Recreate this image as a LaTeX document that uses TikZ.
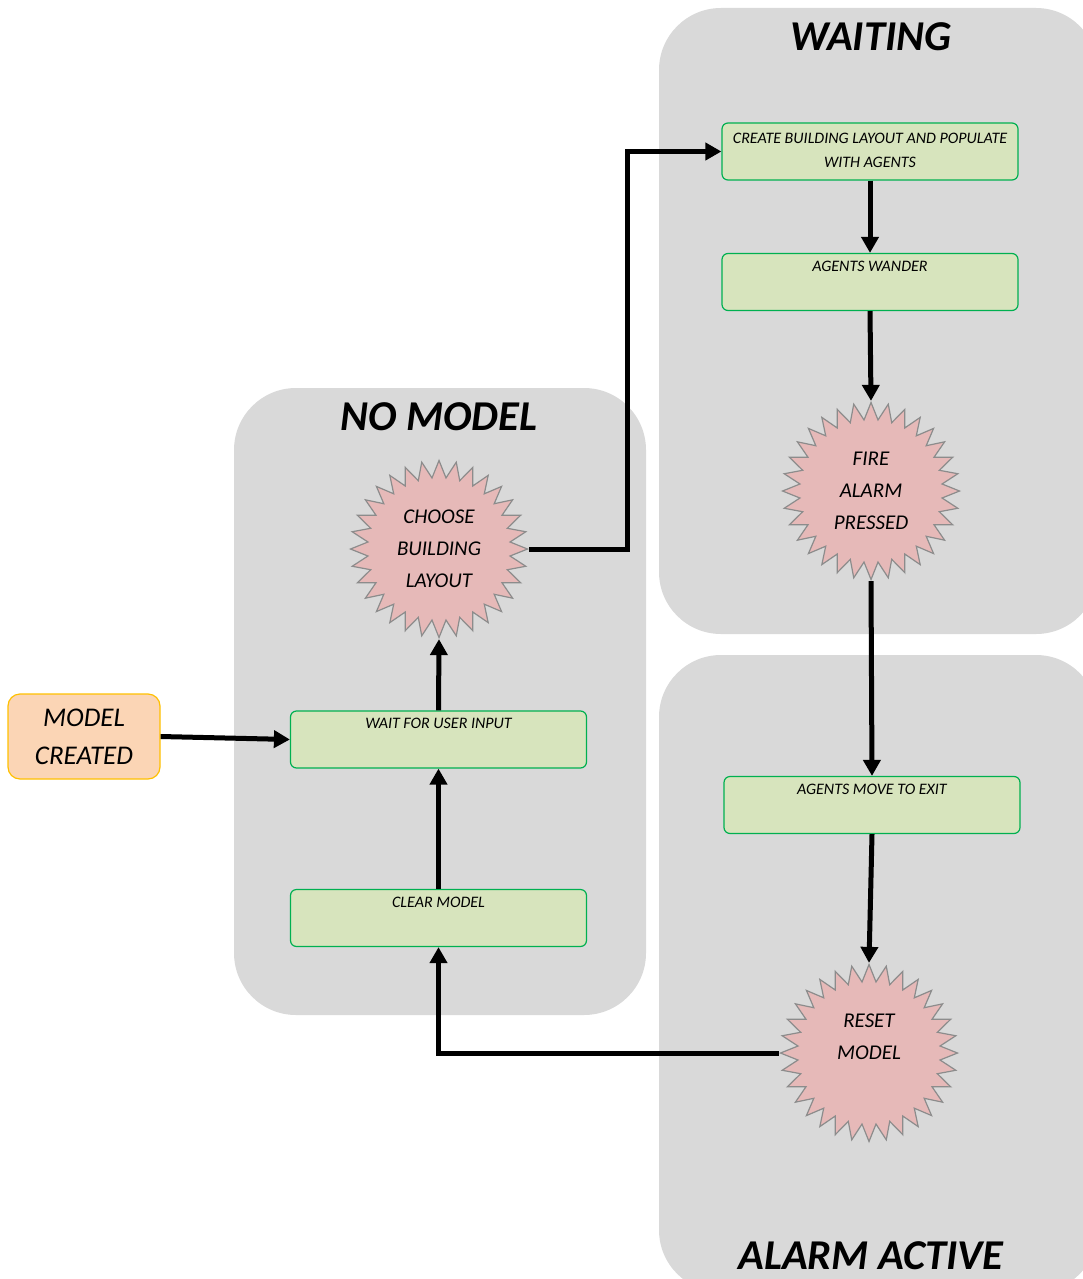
\documentclass[tikz,border=0pt]{standalone}
\usepackage{fontspec}
\setmainfont{Carlito}
\usetikzlibrary{shapes.geometric,arrows.meta}
\definecolor{panelgray}{HTML}{D9D9D9}
\definecolor{stepfill}{HTML}{D7E4BD}
\definecolor{stepline}{HTML}{00B050}
\definecolor{burstfill}{HTML}{E6B9B8}
\definecolor{burstline}{HTML}{8C8C8C}
\definecolor{startfill}{HTML}{FBD5B5}
\definecolor{startline}{HTML}{FFC000}
\begin{document}
\begin{tikzpicture}[x=1pt,y=-1pt,
  panel/.style={fill=panelgray,draw=none,rounded corners=62pt},
  paneltitle/.style={font=\fontsize{42.5}{42.5}\selectfont\bfseries\itshape,inner sep=0pt},
  stepbox/.style={draw=stepline,fill=stepfill,line width=1.2pt,rounded corners=6pt,
    minimum width=296pt,minimum height=57pt,inner sep=0pt},
  steptext/.style={font=\fontsize{16}{24}\selectfont\itshape,align=center},
  burst/.style={star,star points=32,star point ratio=1.24,draw=burstline,fill=burstfill,
    line width=1.2pt,minimum size=177pt,inner sep=0pt,align=center,
    font=\fontsize{21}{32}\selectfont\itshape},
  startbox/.style={draw=startline,fill=startfill,line width=1.2pt,rounded corners=12pt,
    minimum width=152pt,minimum height=85pt,align=center,
    font=\fontsize{27}{38}\selectfont\itshape},
  flow/.style={line width=5pt,-{Triangle[length=16pt,width=17pt]}}
]
\clip (0,0) rectangle (1083,1279);

% state panels
\fill[panel] (234,388) rectangle (646,1015);
\fill[panel] (659,8) rectangle (1098,634);
\fill[panel] (659,655) rectangle (1098,1292);
\node[paneltitle] (tnomodel) at (439,417) {NO MODEL};
\node[paneltitle] (twaiting) at (871,37) {WAITING};
\node[paneltitle] (talarm) at (871,1256) {ALARM ACTIVE};

% start
\node[startbox] (created) at (84,736.5) {MODEL\\CREATED};

% NO MODEL
\node[stepbox,label={[steptext,anchor=north,yshift=-4.5pt]north:WAIT FOR USER INPUT}] (waitin) at (438.5,739.5) {};
\node[stepbox,label={[steptext,anchor=north,yshift=-4.5pt]north:CLEAR MODEL}] (clear) at (438.5,918) {};
\node[burst] (choose) at (439,549) {CHOOSE\\BUILDING\\LAYOUT};

% WAITING
\node[stepbox,steptext,text depth=3pt] (create) at (870,151.5) {CREATE BUILDING LAYOUT AND POPULATE\\WITH AGENTS};
\node[stepbox,label={[steptext,anchor=north,yshift=-4.5pt]north:AGENTS WANDER}] (wander) at (870,282) {};
\node[burst] (fire) at (871,491) {FIRE\\ALARM\\PRESSED};

% ALARM ACTIVE
\node[stepbox,label={[steptext,anchor=north,yshift=-4.5pt]north:AGENTS MOVE TO EXIT}] (move) at (872,805) {};
\node[burst] (reset) at (869,1053) {RESET\\MODEL\\\mbox{}};

% transitions
\draw[flow] (created.east) -- (waitin.west);
\draw[flow] (waitin.north) -- (choose.outer point 17);
\draw[flow] (clear.north) -- (waitin.south);
\draw[flow] (choose.outer point 25) -- ++(98,0) |- (create.west);
\draw[flow] (create.south) -- (wander.north);
\draw[flow] (wander.south) -- (fire.outer point 1);
\draw[flow] (fire.outer point 17) -- (move.north);
\draw[flow] (move.south) -- (reset.outer point 1);
\draw[flow] (reset.outer point 9) -| (clear.south);
\end{tikzpicture}
\end{document}
